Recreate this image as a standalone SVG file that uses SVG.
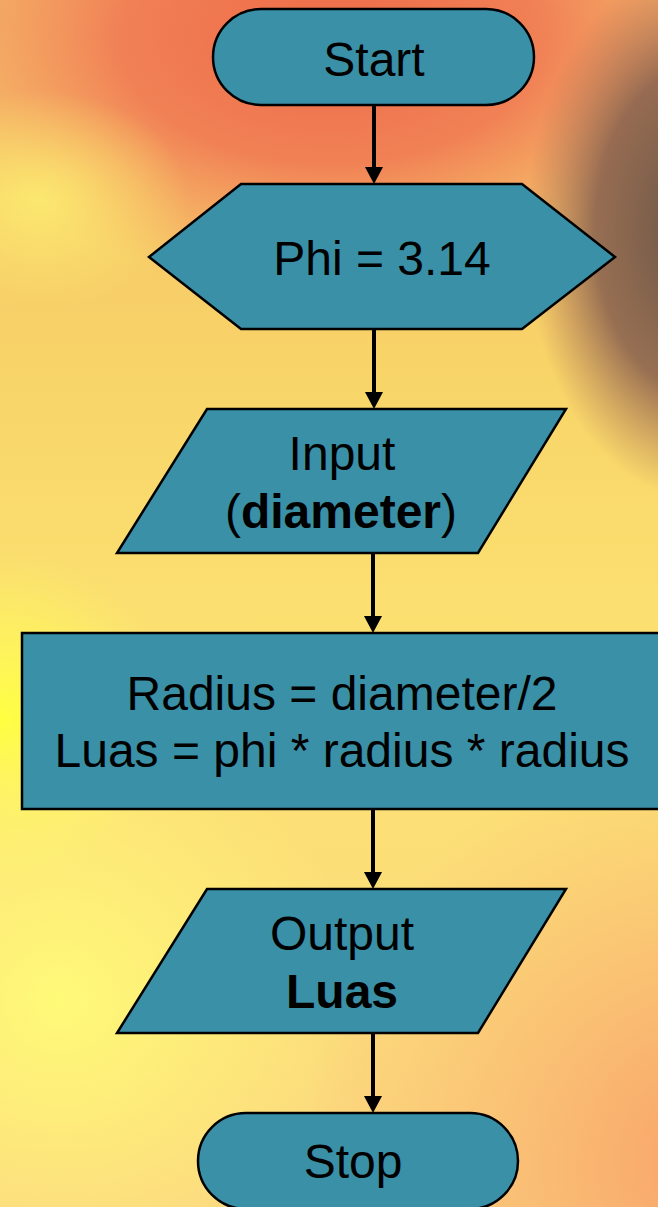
<svg xmlns="http://www.w3.org/2000/svg" width="658" height="1207" viewBox="0 0 658 1207">
<defs>
<linearGradient id="bgv" x1="0" y1="0" x2="0" y2="1">
<stop offset="0" stop-color="#f4b868"/>
<stop offset="0.3" stop-color="#f8d468"/>
<stop offset="0.55" stop-color="#fce272"/>
<stop offset="1" stop-color="#fcd880"/>
</linearGradient>
<radialGradient id="red" cx="0" cy="0" r="1" gradientUnits="userSpaceOnUse" gradientTransform="translate(330,40) scale(420,250)">
<stop offset="0" stop-color="#ee6a48" stop-opacity="1"/>
<stop offset="0.5" stop-color="#f07652" stop-opacity="0.85"/>
<stop offset="1" stop-color="#f49060" stop-opacity="0"/>
</radialGradient>
<radialGradient id="dark" cx="0" cy="0" r="1" gradientUnits="userSpaceOnUse" gradientTransform="translate(700,230) scale(175,270)">
<stop offset="0" stop-color="#665244" stop-opacity="1"/>
<stop offset="0.6" stop-color="#8c6450" stop-opacity="0.9"/>
<stop offset="1" stop-color="#b07058" stop-opacity="0"/>
</radialGradient>
<radialGradient id="yel" cx="0" cy="720" r="170" gradientUnits="userSpaceOnUse">
<stop offset="0" stop-color="#ffff40" stop-opacity="1"/>
<stop offset="1" stop-color="#ffff60" stop-opacity="0"/>
</radialGradient>
<radialGradient id="yel2" cx="0" cy="0" r="1" gradientUnits="userSpaceOnUse" gradientTransform="translate(60,1000) scale(300,280)">
<stop offset="0" stop-color="#fffa78" stop-opacity="1"/>
<stop offset="1" stop-color="#fff878" stop-opacity="0"/>
</radialGradient>
<radialGradient id="org" cx="720" cy="1160" r="420" gradientUnits="userSpaceOnUse">
<stop offset="0" stop-color="#f8a068" stop-opacity="1"/>
<stop offset="1" stop-color="#f8b070" stop-opacity="0"/>
</radialGradient>
<radialGradient id="tl" cx="0" cy="0" r="1" gradientUnits="userSpaceOnUse" gradientTransform="translate(40,200) scale(150,110)">
<stop offset="0" stop-color="#fcec70" stop-opacity="0.9"/>
<stop offset="1" stop-color="#fcec70" stop-opacity="0"/>
</radialGradient>
<style>
.n{fill:#3990a7;stroke:#000;stroke-width:2.5}
.t{font-family:"Liberation Sans",Arial,sans-serif;font-size:48px;fill:#000;text-anchor:middle}
.b{font-weight:bold}
.c{stroke:#000;stroke-width:4;fill:none}
</style>
</defs>
<g id="background">
<rect x="0" y="0" width="658" height="1207" fill="url(#bgv)"/>
<rect x="0" y="0" width="658" height="1207" fill="url(#red)"/>
<rect x="0" y="0" width="658" height="1207" fill="url(#tl)"/>
<rect x="0" y="0" width="658" height="1207" fill="url(#dark)"/>
<rect x="0" y="0" width="658" height="1207" fill="url(#yel)"/>
<rect x="0" y="0" width="658" height="1207" fill="url(#yel2)"/>
<rect x="0" y="0" width="658" height="1207" fill="url(#org)"/>
</g>
<g id="connectors">
<line class="c" x1="374" y1="105" x2="374" y2="167"/>
<path d="M365,167 L383,167 L374,184 Z"/>
<line class="c" x1="374" y1="329" x2="374" y2="392"/>
<path d="M365,392 L383,392 L374,409 Z"/>
<line class="c" x1="373" y1="553" x2="373" y2="616"/>
<path d="M364,616 L382,616 L373,633 Z"/>
<line class="c" x1="373" y1="809" x2="373" y2="872"/>
<path d="M364,872 L382,872 L373,889 Z"/>
<line class="c" x1="373" y1="1033" x2="373" y2="1096"/>
<path d="M364,1096 L382,1096 L373,1113 Z"/>
</g>
<g id="start">
<rect class="n" x="213" y="9" width="321" height="96" rx="48" ry="48"/>
<text class="t" x="374" y="76">Start</text>
</g>
<g id="phi">
<polygon class="n" points="149,257 241,184 522,184 615,257 522,329 241,329"/>
<text class="t" x="382" y="275">Phi = 3.14</text>
</g>
<g id="input">
<polygon class="n" points="207,409 566,409 478,553 117,553"/>
<text class="t" x="342" y="470">Input</text>
<text class="t" x="341" y="528">(<tspan class="b">diameter</tspan>)</text>
</g>
<g id="process">
<rect class="n" x="22" y="633" width="650" height="176"/>
<text class="t" x="342" y="710">Radius = diameter/2</text>
<text class="t" x="342" y="767">Luas = phi * radius * radius</text>
</g>
<g id="output">
<polygon class="n" points="207,889 566,889 478,1033 117,1033"/>
<text class="t" x="342" y="950">Output</text>
<text class="t b" x="342" y="1008">Luas</text>
</g>
<g id="stop">
<rect class="n" x="198" y="1113" width="320" height="96" rx="48" ry="48"/>
<text class="t" x="353" y="1178">Stop</text>
</g>
</svg>
